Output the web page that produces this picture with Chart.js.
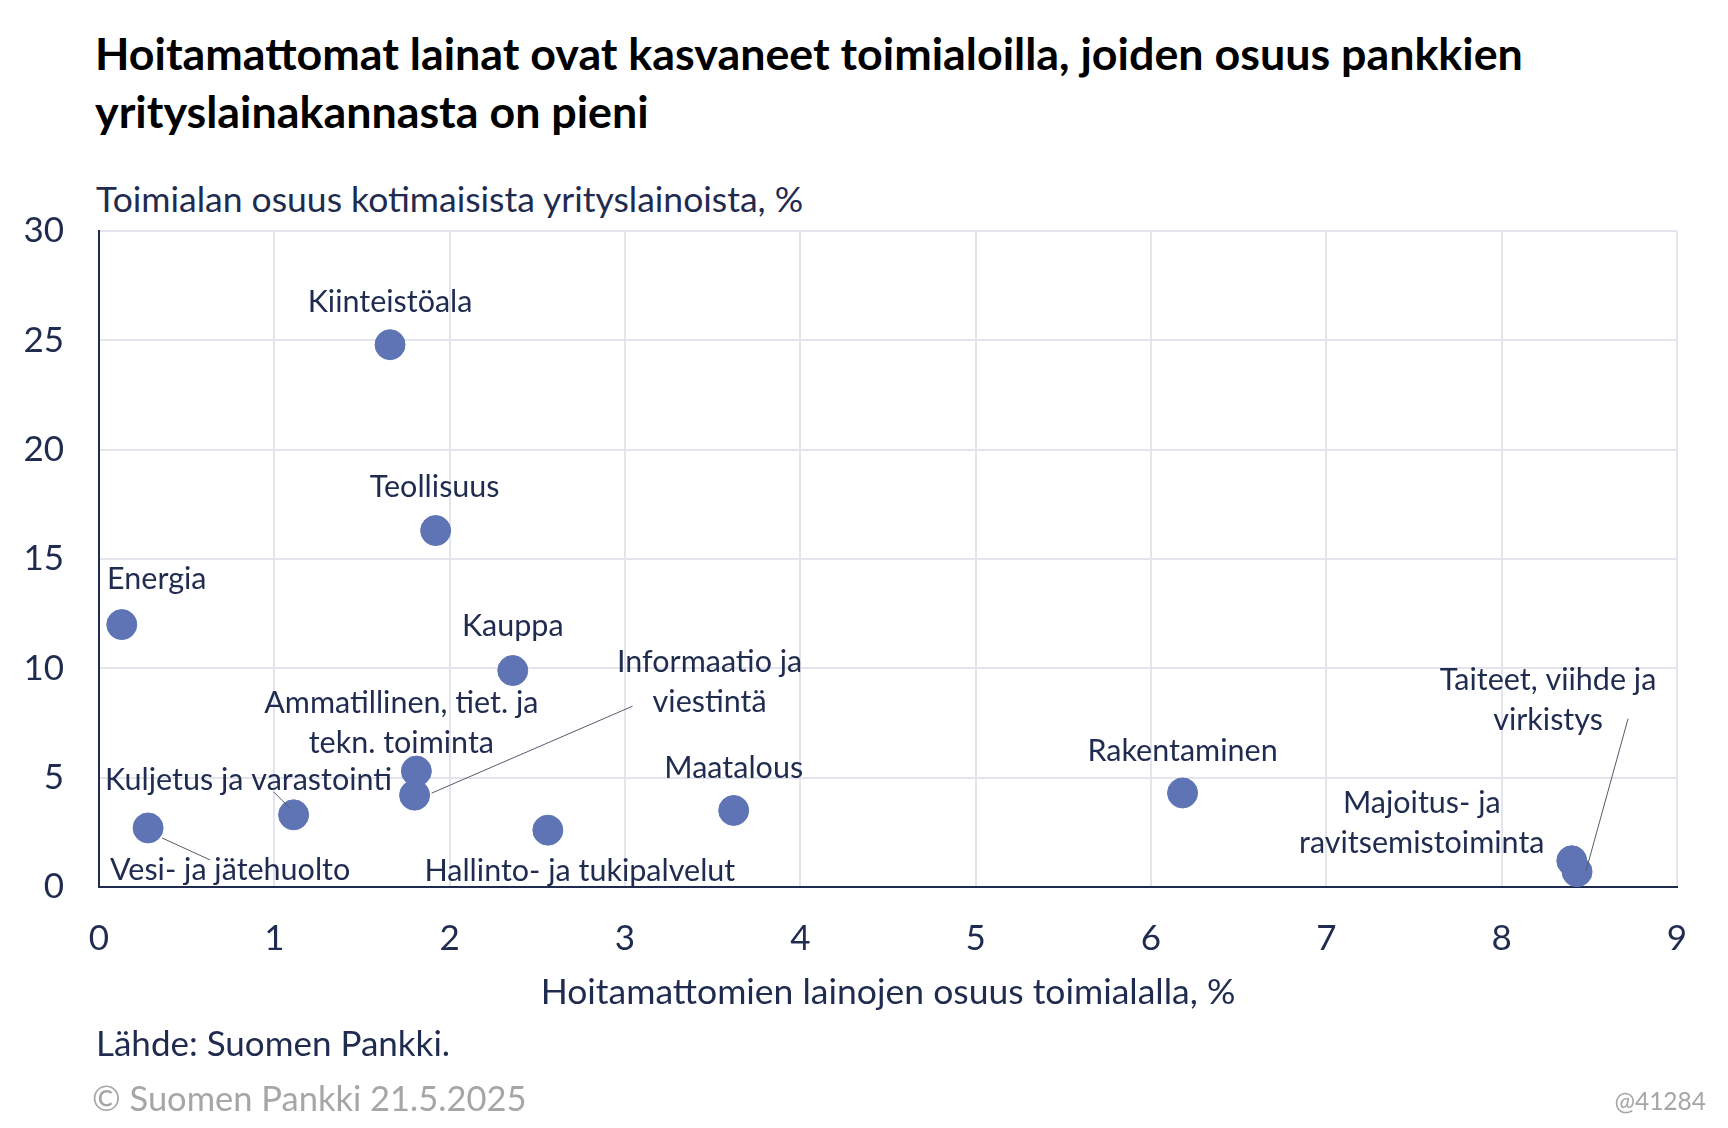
<!DOCTYPE html>
<html>
<head>
<meta charset="utf-8">
<script src="https://cdn.jsdelivr.net/npm/chart.js@4/dist/chart.umd.min.js"></script>
<style>
  html, body { margin: 0; padding: 0; background: #fff; }
  body { width: 1728px; height: 1128px; position: relative; overflow: hidden; font-family: Lato, "Open Sans", sans-serif; }
  #chart { position: absolute; left: 0; top: 0; }
  .txt { position: absolute; white-space: nowrap; color: #1f2b4f; }
  #title { left: 95px; top: 24px; font-size: 44.8px; font-weight: bold; color: #000; line-height: 58px; }
  #ytitle { left: 96px; top: 177px; font-size: 35.5px; }
  #xtitle { left: 0; width: 1776px; text-align: center; top: 969px; font-size: 35.5px; }
  #source { left: 96px; top: 1021px; font-size: 35px; }
  #copy { left: 92px; top: 1077px; font-size: 34.5px; color: #a6a6a6; }
  #code { right: 22px; top: 1086px; font-size: 24.5px; color: #a6a6a6; }
</style>
</head>
<body>
<div id="title" class="txt">Hoitamattomat lainat ovat kasvaneet toimialoilla, joiden osuus pankkien<br>yrityslainakannasta on pieni</div>
<div id="ytitle" class="txt">Toimialan osuus kotimaisista yrityslainoista, %</div>
<canvas id="chart" width="1728" height="1128"></canvas>
<div id="xtitle" class="txt">Hoitamattomien lainojen osuus toimialalla, %</div>
<div id="source" class="txt">Lähde: Suomen Pankki.</div>
<div id="copy" class="txt">© Suomen Pankki 21.5.2025</div>
<div id="code" class="txt">@41284</div>
<script>
// toimialat (rivitettynä kuten kuvassa)
const toimialat = [
    ["Kiinteistöala"],
    ["Teollisuus"],
    ["Energia"],
    ["Kauppa"],
    ["Ammatillinen, tiet. ja", "tekn. toiminta"],
    ["Informaatio ja", "viestintä"],
    ["Kuljetus ja varastointi"],
    ["Vesi- ja jätehuolto"],
    ["Hallinto- ja tukipalvelut"],
    ["Maatalous"],
    ["Rakentaminen"],
    ["Majoitus- ja", "ravitsemistoiminta"],
    ["Taiteet, viihde ja", "virkistys"]
];
// x: hoitamattomien lainojen osuus toimialalla, %
const hoitamattomat = [1.66, 1.92, 0.13, 2.36, 1.81, 1.80, 1.11, 0.28, 2.56, 3.62, 6.18, 8.40, 8.43];
// y: toimialan osuus kotimaisista yrityslainoista, %
const osuus = [24.8, 16.3, 12.0, 9.9, 5.3, 4.2, 3.3, 2.7, 2.6, 3.5, 4.3, 1.2, 0.7];
const xTicks = [0, 1, 2, 3, 4, 5, 6, 7, 8, 9];
const yTicks = [0, 5, 10, 15, 20, 25, 30];

const navy = "#1f2b4f";
const dotColor = "#5e74b4";

// label placement relative to the point (px), leader lines relative to the point
const labelStyle = [
    { dx: 0, dy: -43 },
    { dx: -1, dy: -43 },
    { dx: 35, dy: -45 },
    { dx: 0, dy: -44 },
    { dx: -15, dy: -68 },
    { dx: 295, dy: -133, leader: [17, -2, 218, -89] },
    { dx: -45, dy: -35, leader: [-20, -23, -4, -7] },
    { dx: 82, dy: 42, leader: [14, 10, 62, 32] },
    { dx: 32, dy: 41 },
    { dx: 0, dy: -42 },
    { dx: 0, dy: -42 },
    { dx: -150, dy: -58 },
    { dx: -29, dy: -192, leader: [51, -153, 9, -1] }
];

const points = hoitamattomat.map((x, i) => ({ x: x, y: osuus[i] }));

const pointLabels = {
    id: "pointLabels",
    afterDatasetsDraw(chart) {
        const ctx = chart.ctx;
        const meta = chart.getDatasetMeta(0);
        ctx.save();
        meta.data.forEach((el, i) => {
            const s = labelStyle[i];
            if (s.leader) {
                ctx.strokeStyle = "#555b6e";
                ctx.lineWidth = 1;
                ctx.beginPath();
                ctx.moveTo(el.x + s.leader[0], el.y + s.leader[1]);
                ctx.lineTo(el.x + s.leader[2], el.y + s.leader[3]);
                ctx.stroke();
            }
            ctx.fillStyle = navy;
            ctx.font = "30.5px Lato";
            ctx.textAlign = "center";
            ctx.textBaseline = "middle";
            toimialat[i].forEach((line, j) => {
                ctx.fillText(line, el.x + s.dx, el.y + s.dy + j * 40);
            });
        });
        ctx.restore();
    }
};

new Chart(document.getElementById("chart").getContext("2d"), {
    type: "scatter",
    data: {
        datasets: [{
            data: points,
            backgroundColor: dotColor,
            borderColor: dotColor,
            borderWidth: 1,
            pointRadius: 15,
            pointHoverRadius: 15
        }]
    },
    options: {
        responsive: false,
        animation: false,
        layout: { padding: { top: 231, right: 51, bottom: 161, left: 0 } },
        plugins: {
            legend: { display: false },
            tooltip: { enabled: false }
        },
        scales: {
            x: {
                min: 0,
                max: 9,
                afterBuildTicks: (axis) => { axis.ticks = xTicks.map(v => ({ value: v })); },
                afterFit: (axis) => { axis.height = 80; },
                grid: { color: "#e4e4ec", lineWidth: 2, drawTicks: false },
                border: { color: navy, width: 2 },
                ticks: { color: navy, font: { family: "Lato", size: 35 }, padding: 31 }
            },
            y: {
                min: 0,
                max: 30,
                afterBuildTicks: (axis) => { axis.ticks = yTicks.map(v => ({ value: v })); },
                afterFit: (axis) => { axis.width = 99; },
                grid: { color: "#e4e4ec", lineWidth: 2, drawTicks: false },
                border: { color: navy, width: 2 },
                ticks: { color: navy, font: { family: "Lato", size: 35 }, padding: 35 }
            }
        }
    },
    plugins: [pointLabels]
});
</script>
</body>
</html>
